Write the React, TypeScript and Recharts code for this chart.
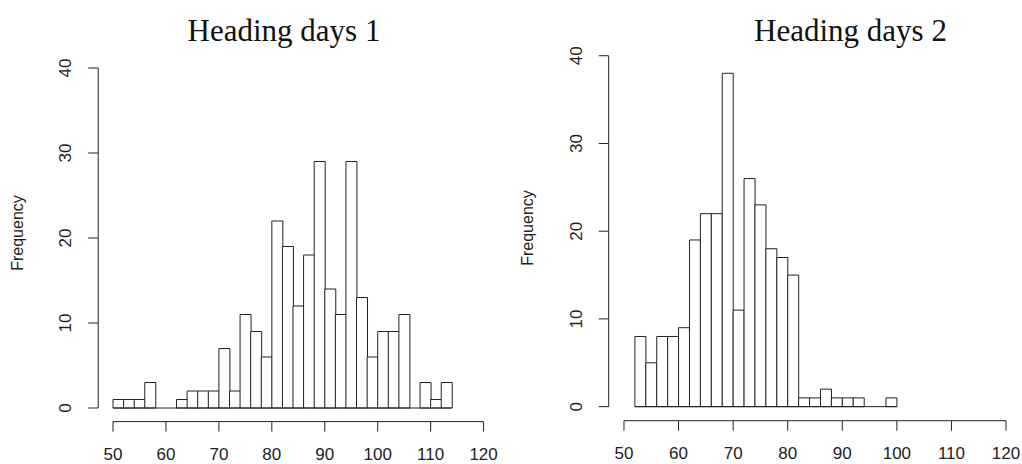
import { BarChart, Bar, XAxis, YAxis, ReferenceLine } from 'recharts'

// bin edges and counts
const breaks1 = [50, 52, 54, 56, 58, 60, 62, 64, 66, 68, 70, 72, 74, 76, 78, 80, 82, 84, 86, 88, 90, 92, 94, 96, 98, 100, 102, 104, 106, 108, 110, 112, 114]
const counts1 = [1, 1, 1, 3, 0, 0, 1, 2, 2, 2, 7, 2, 11, 9, 6, 22, 19, 12, 18, 29, 14, 11, 29, 13, 6, 9, 9, 11, 0, 3, 1, 3]

const breaks2 = [52, 54, 56, 58, 60, 62, 64, 66, 68, 70, 72, 74, 76, 78, 80, 82, 84, 86, 88, 90, 92, 94, 96, 98, 100]
const counts2 = [8, 5, 8, 8, 9, 19, 22, 22, 38, 11, 26, 23, 18, 17, 15, 1, 1, 2, 1, 1, 1, 0, 0, 1]

const xTicks = [50, 60, 70, 80, 90, 100, 110, 120]
const yTicks = [0, 10, 20, 30, 40]
const xLim = [50, 120]
const yLim = [0, 40]

const INK = '#222'
const SANS = '"Liberation Sans", Arial, sans-serif'

// R pads the plot region by 4% on each side
function pad(lim: number[]) {
  const d = (lim[1] - lim[0]) * 0.04
  return [lim[0] - d, lim[1] + d]
}
const xDom = pad(xLim)
const yDom = pad(yLim)

function YTick({ x, y, payload }: any) {
  return (
    <text x={0} y={0} transform={`translate(${x - 15},${y}) rotate(-90)`}
      textAnchor="middle" fontSize={17} fill={INK} fontFamily={SANS}>
      {payload.value}
    </text>
  )
}

interface HistProps {
  breaks: number[]
  counts: number[]
  margin: { top: number; right: number; bottom: number; left: number }
}

const W = 511
const H = 464
const Y_W = 98
const X_H = 42

function Hist({ breaks, counts, margin }: HistProps) {
  const data = counts.map((n, i) => ({ mid: (breaks[i] + breaks[i + 1]) / 2, n }))
  const last = breaks[breaks.length - 1]

  return (
    <BarChart width={W} height={H} data={data} margin={margin} barCategoryGap={0} barGap={0}>
      <XAxis type="number" dataKey="mid" domain={xDom} ticks={xTicks} allowDataOverflow
        axisLine={false} tickSize={10} tickMargin={16} tickLine={{ stroke: INK }}
        tick={{ fontSize: 17, fill: INK, fontFamily: SANS }} height={X_H} />
      <YAxis type="number" domain={yDom} ticks={yTicks} allowDataOverflow
        axisLine={false} tickSize={10} tickLine={{ stroke: INK }} width={Y_W} tick={YTick} />
      <ReferenceLine ifOverflow="visible" stroke={INK}
        segment={[{ x: xDom[0], y: yLim[0] }, { x: xDom[0], y: yLim[1] }]} />
      <ReferenceLine ifOverflow="visible" stroke={INK}
        segment={[{ x: xLim[0], y: yDom[0] }, { x: xLim[1], y: yDom[0] }]} />
      <ReferenceLine ifOverflow="visible" stroke={INK}
        segment={[{ x: breaks[0], y: 0 }, { x: last, y: 0 }]} />
      <Bar dataKey="n" fill="#fff" stroke={INK} strokeWidth={1} isAnimationActive={false} />
    </BarChart>
  )
}

export default function App() {
  return (
    <div style={{ position: 'absolute', left: 0, top: 0, width: 1022, height: 464, background: '#fff' }}>
      <div style={{ position: 'absolute', left: 0, top: 0 }}>
        <Hist breaks={breaks1} counts={counts1} margin={{ top: 54.4, right: 12.6, bottom: 0.4, left: 0.2 }} />
      </div>
      <div style={{ position: 'absolute', left: 511, top: 0 }}>
        <Hist breaks={breaks2} counts={counts2} margin={{ top: 41.7, right: 0.7, bottom: 1.3, left: -0.3 }} />
      </div>
      <svg width={1022} height={464} style={{ position: 'absolute', left: 0, top: 0, pointerEvents: 'none' }}>
        <text x={284} y={41} textAnchor="middle" fontSize={31} fill="#111" fontFamily='"Liberation Serif", "Times New Roman", serif'>Heading days 1</text>
        <text x={850.5} y={41} textAnchor="middle" fontSize={31} fill="#111" fontFamily='"Liberation Serif", "Times New Roman", serif'>Heading days 2</text>
        <text x={0} y={0} transform="translate(23,233) rotate(-90)" textAnchor="middle" fontSize={16} fill={INK} fontFamily={SANS}>Frequency</text>
        <text x={0} y={0} transform="translate(533,228) rotate(-90)" textAnchor="middle" fontSize={16} fill={INK} fontFamily={SANS}>Frequency</text>
      </svg>
    </div>
  )
}
